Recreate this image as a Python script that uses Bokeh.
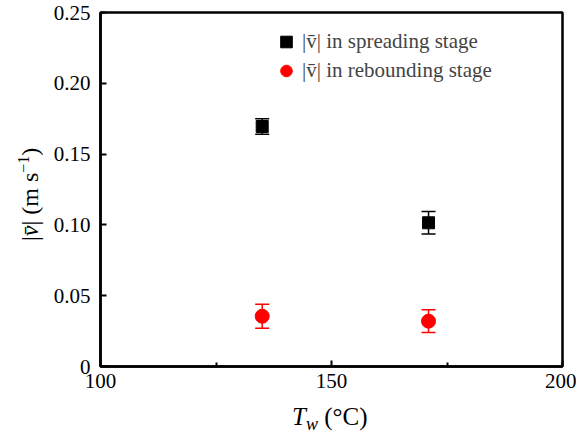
from bokeh.plotting import figure
from bokeh.models import (ColumnDataSource, Whisker, TeeHead, FixedTicker, Legend,
                          LegendItem, Range1d, Div)
from bokeh.layouts import row, column
from bokeh.embed import file_html
from bokeh.resources import INLINE

# ---- data ----
temps = [135, 171]
spread_v = [0.1695, 0.1015]
spread_err = [0.0055, 0.008]
rebound_v = [0.0355, 0.032]
rebound_err = [0.0085, 0.008]
x_ticks = [100, 150, 200]
x_minor = [125, 175]
x_tick_labels = ["100", "150", "200"]
y_ticks = [0, 0.05, 0.10, 0.15, 0.20, 0.25]
y_tick_labels = ["0", "0.05", "0.10", "0.15", "0.20", "0.25"]
legend_labels = ["|v\u0304| in spreading stage", "|v\u0304| in rebounding stage"]

FONT = "Liberation Serif"

p = figure(width=526, height=398, output_backend="svg", toolbar_location=None,
           x_range=Range1d(100, 200), y_range=Range1d(0, 0.25),
           min_border_left=48, min_border_top=12, min_border_right=14, min_border_bottom=32)
p.grid.visible = False
p.outline_line_color = "black"
p.outline_line_width = 2.5

xa = p.xaxis[0]
xa.ticker = FixedTicker(ticks=x_ticks, minor_ticks=x_minor)
xa.major_label_overrides = {t: l for t, l in zip(x_ticks, x_tick_labels)}
ya = p.yaxis[0]
ya.ticker = FixedTicker(ticks=y_ticks, minor_ticks=[])
ya.major_label_overrides = {t: l for t, l in zip(y_ticks, y_tick_labels)}

for ax in (xa, ya):
    ax.axis_line_width = 2.5
    ax.axis_line_color = "black"
    ax.major_tick_in = 6
    ax.major_tick_out = 0
    ax.minor_tick_in = 4
    ax.minor_tick_out = 0
    ax.major_tick_line_width = 2
    ax.minor_tick_line_width = 2
    ax.major_label_text_font = FONT
    ax.major_label_text_font_size = "21px"
    ax.major_label_text_color = "black"

xa.major_label_standoff = 7
ya.major_label_standoff = 10

spread_src = ColumnDataSource(dict(x=temps, y=spread_v,
                                   lo=[v - e for v, e in zip(spread_v, spread_err)],
                                   hi=[v + e for v, e in zip(spread_v, spread_err)]))
reb_src = ColumnDataSource(dict(x=temps, y=rebound_v,
                                lo=[v - e for v, e in zip(rebound_v, rebound_err)],
                                hi=[v + e for v, e in zip(rebound_v, rebound_err)]))

for src, col in ((spread_src, "black"), (reb_src, "#ff0000")):
    w = Whisker(source=src, base="x", lower="lo", upper="hi", line_color=col, line_width=1.5,
                level="overlay",
                upper_head=TeeHead(size=14, line_color=col, line_width=1.5),
                lower_head=TeeHead(size=14, line_color=col, line_width=1.5))
    p.add_layout(w)

r1 = p.scatter("x", "y", source=spread_src, marker="square", size=12, color="black")
r2 = p.scatter("x", "y", source=reb_src, marker="circle", size=14, color="#ff0000")

legend = Legend(items=[LegendItem(label=legend_labels[0], renderers=[r1]),
                       LegendItem(label=legend_labels[1], renderers=[r2])],
                location=(170, 281), border_line_color=None, background_fill_alpha=0,
                label_text_font=FONT, label_text_font_size="21px", glyph_height=29,
                glyph_width=32, spacing=0, padding=10, label_standoff=0)
p.add_layout(legend)

# axis titles as real HTML text (italic symbols, sub/superscripts)
ylab_html = ('<div style="display:inline-block;white-space:nowrap;margin-left:13px;'
             'margin-top:236px;transform-origin:0 0;transform:rotate(-90deg);'
             "font-family:'Liberation Serif';font-size:24px;line-height:24px;color:black\">"
             '|<i>v\u0304</i>| (m s<span style="font-size:16px;position:relative;top:-9px">'
             '\u22121</span>)</div>')
ydiv = Div(text=ylab_html, width=40, height=398)

xlab_html = ('<div style="white-space:nowrap;margin-left:237px;margin-top:1px;'
             "font-family:'Liberation Serif';font-size:25px;line-height:25px;color:black\">"
             '<i>T</i><span style="font-size:18px;font-style:italic;position:relative;top:5px">w'
             '</span> (\u00b0C)</div>')
xdiv = Div(text=xlab_html, width=526, height=38)

layout = row(ydiv, column(p, xdiv))

open("out.html", "w").write(file_html(layout, INLINE))
